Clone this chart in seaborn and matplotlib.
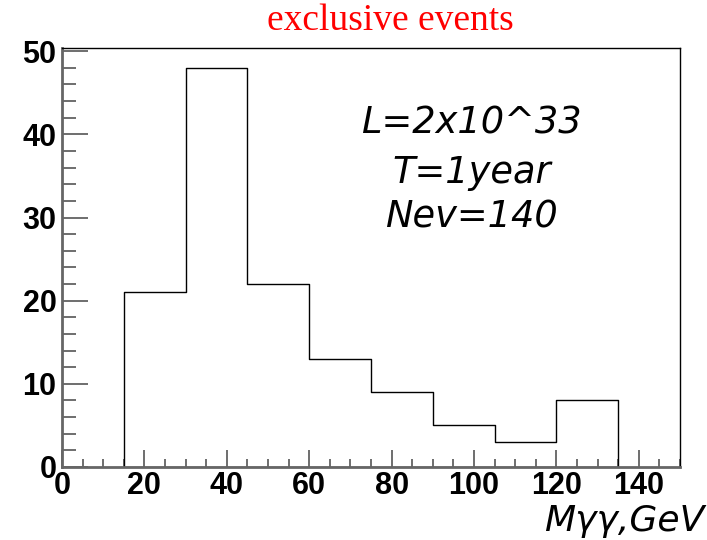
import numpy as np
import pandas as pd
import matplotlib
matplotlib.use("Agg")
import matplotlib.pyplot as plt
import seaborn as sns
from matplotlib.ticker import MultipleLocator

bin_edges = [15, 30, 45, 60, 75, 90, 105, 120, 135]
counts = [21, 48, 22, 13, 9, 5, 3, 8]
x_ticks = [0, 20, 40, 60, 80, 100, 120, 140]
y_ticks = [0, 10, 20, 30, 40, 50]
title = "exclusive events"
xlabel = "M\u03b3\u03b3,GeV"
annotation = ["L=2x10^33", "T=1year", "Nev=140"]

sns.set_theme(style="white")
plt.rcParams['font.family'] = ['Liberation Sans', 'DejaVu Sans']

centers = [(a + b) / 2 for a, b in zip(bin_edges[:-1], bin_edges[1:])]
df = pd.DataFrame({"m": centers, "w": counts})

fig = plt.figure(figsize=(7.07, 5.40), dpi=100)
ax = fig.add_axes([0.0877, 0.1352, 0.9618 - 0.0877, 0.9113 - 0.1352])

sns.histplot(data=df, x="m", weights="w", bins=bin_edges, element="step",
             fill=True, color="black", linewidth=1.0, ax=ax)
for coll in ax.collections:
    coll.set_facecolor("none")
    coll.set_edgecolor("black")
    coll.set_linewidth(1.0)
    coll.set_alpha(1.0)

ax.set_xlim(0, 150)
ax.set_ylim(0, 50.4)
ax.set_xticks(x_ticks)
ax.set_yticks(y_ticks)
ax.xaxis.set_minor_locator(MultipleLocator(5))
ax.yaxis.set_minor_locator(MultipleLocator(2))
ax.tick_params(axis="both", which="both", bottom=True, left=True, top=False, right=False)
ax.tick_params(axis="both", which="major", direction="in", length=19, width=1.2,
               color="#555555", labelsize=22, pad=4)
ax.tick_params(axis="both", which="minor", direction="in", length=10, width=1.2,
               color="#555555")
ax.tick_params(axis="x", which="major", length=12, pad=3)
ax.tick_params(axis="x", which="minor", length=6)
for lab in ax.get_xticklabels() + ax.get_yticklabels():
    lab.set_fontweight("bold")
    lab.set_color("black")

for side in ["left", "bottom"]:
    ax.spines[side].set_color("#666666")
    ax.spines[side].set_linewidth(2)
for side in ["top", "right"]:
    ax.spines[side].set_color("black")
    ax.spines[side].set_linewidth(1)
    ax.spines[side].set_visible(True)

ax.set_xlabel("")
ax.set_ylabel("")

fig.text(0.552, 0.962, title, ha="center", va="center", color="red",
         fontsize=27, family="Liberation Serif")
ys = [0.772, 0.681, 0.598]
for t, y in zip(annotation, ys):
    fig.text(0.667, y, t, ha="center", va="center", fontsize=26.5,
             style="italic", family="DejaVu Sans", color="black")
fig.text(0.997, 0.004, xlabel, ha="right", va="bottom", fontsize=26,
         style="italic", family="DejaVu Sans", color="black")

fig.savefig("out.png", dpi=100)
